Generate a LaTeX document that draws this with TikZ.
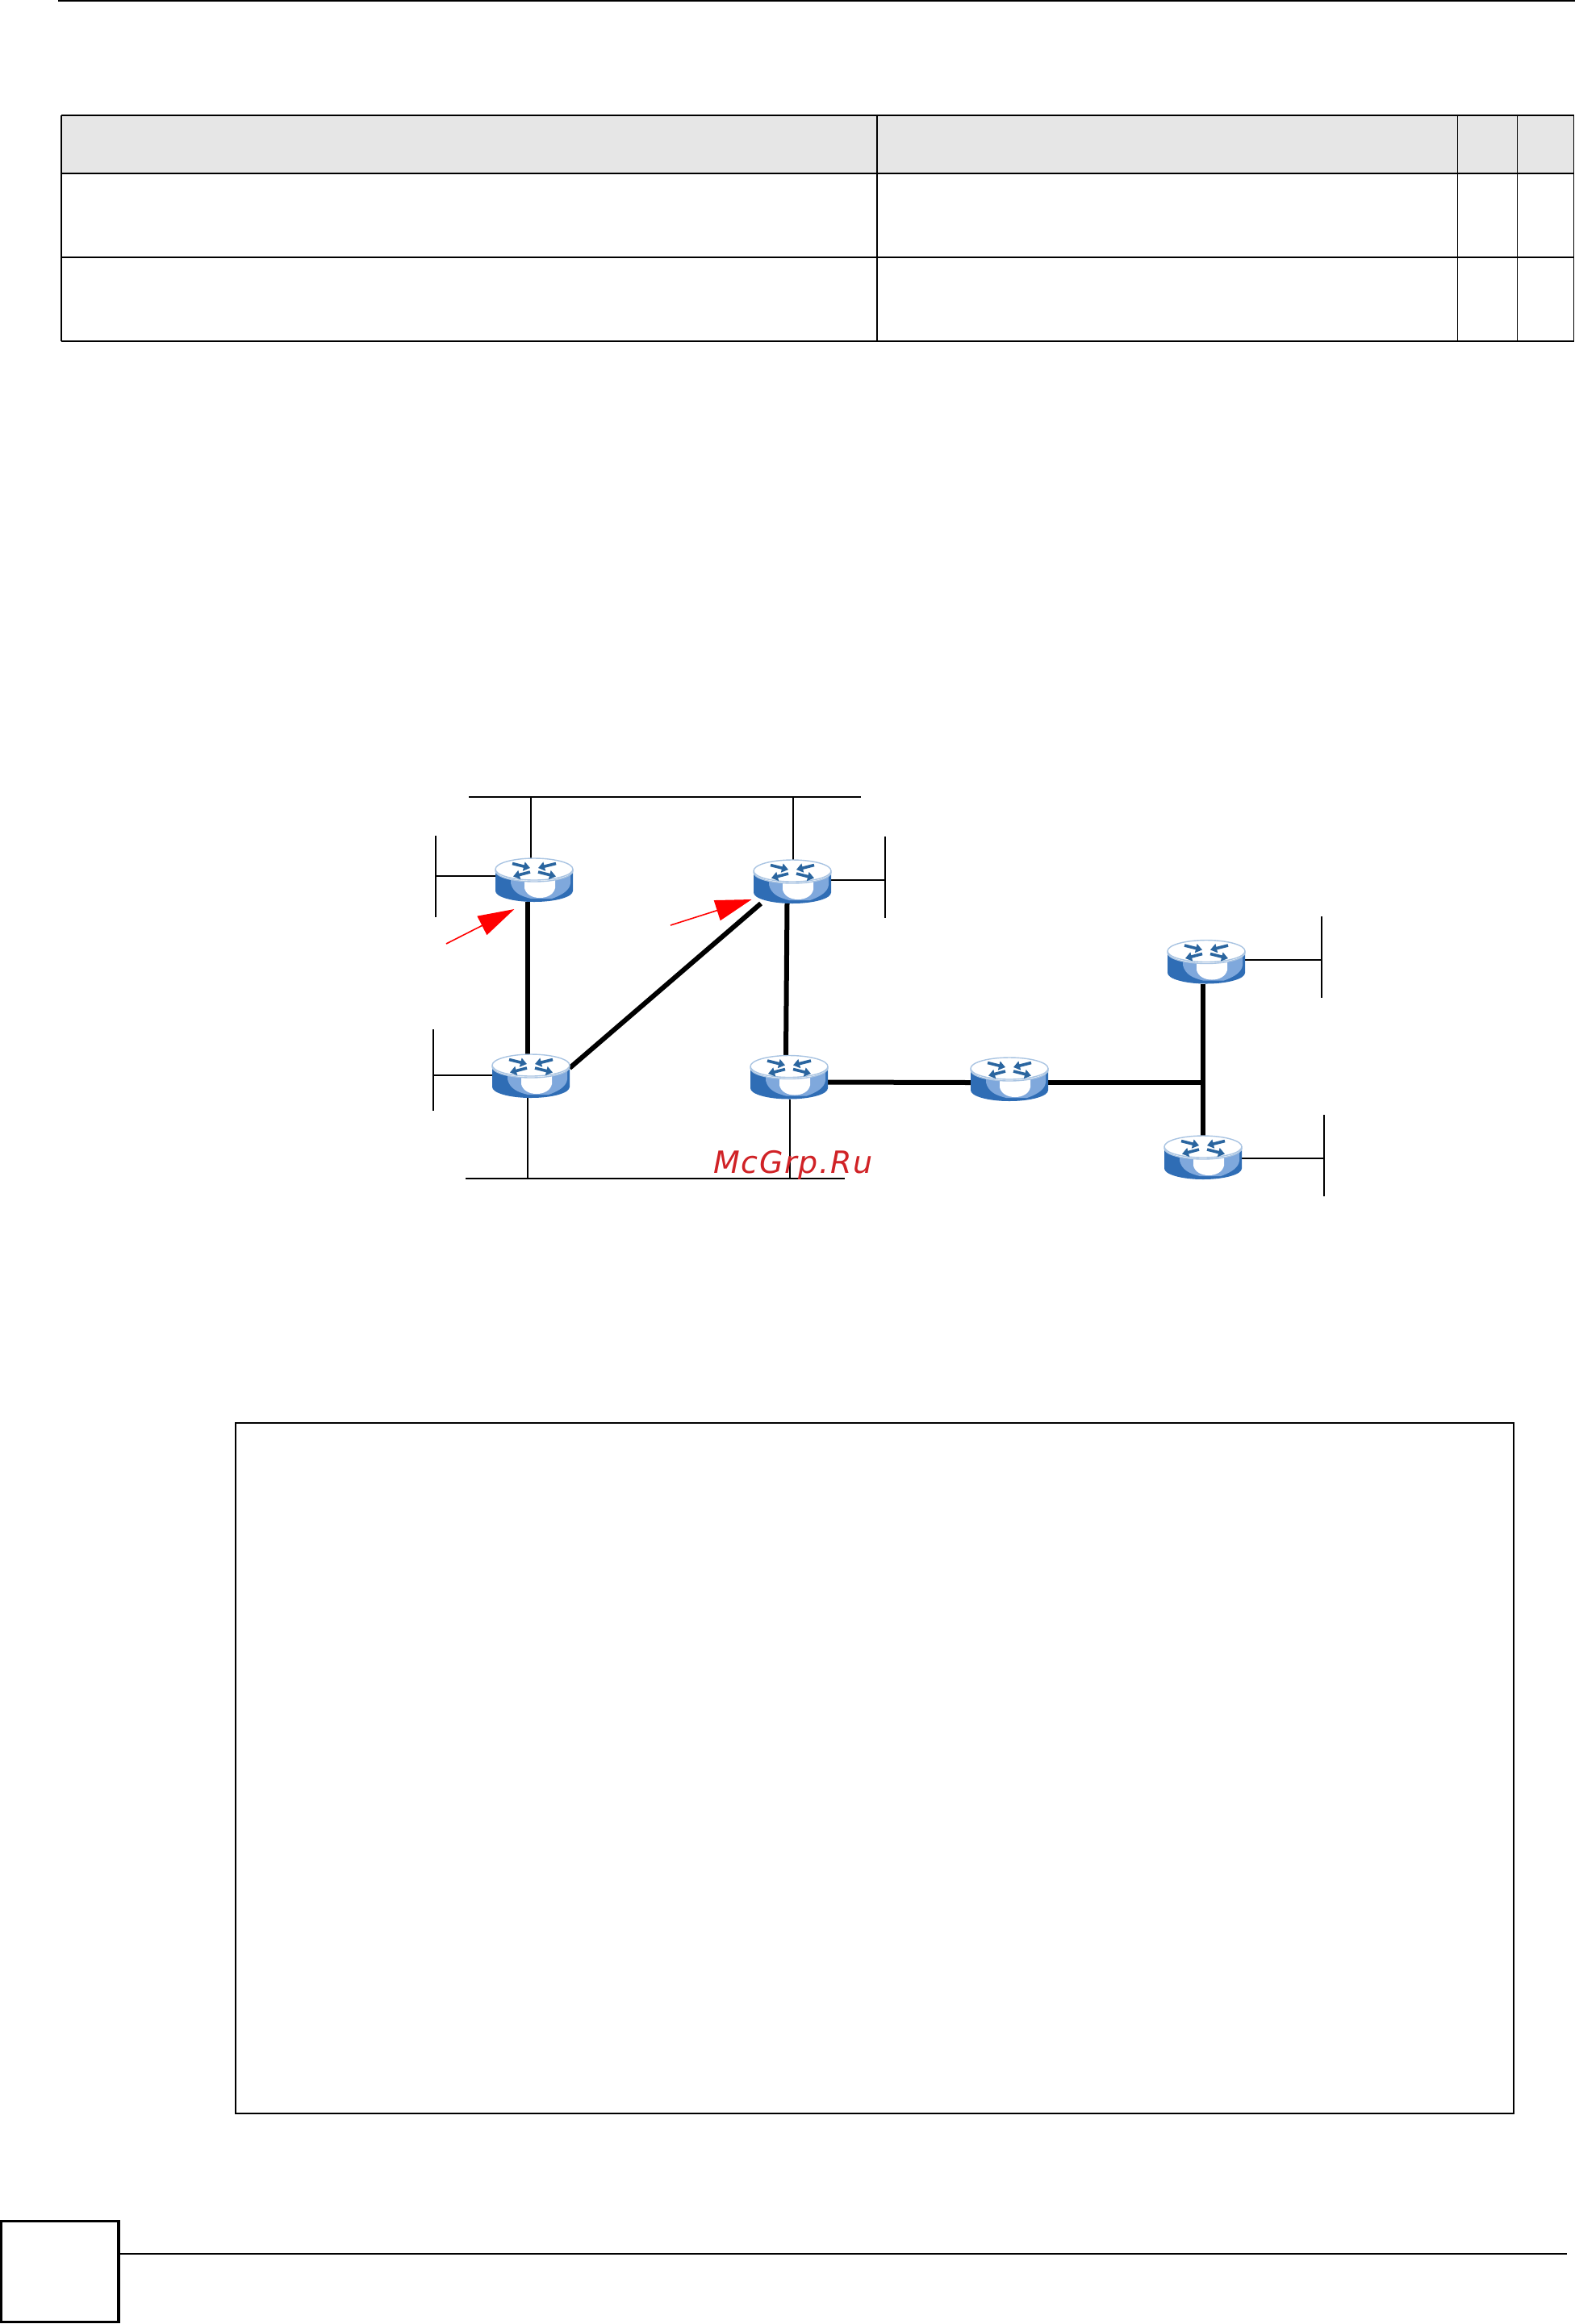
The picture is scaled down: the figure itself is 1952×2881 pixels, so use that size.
\documentclass[tikz,border=0pt]{standalone}
\usepackage{fontspec}
\usepackage{tikz}
\usetikzlibrary{arrows.meta}
\newfontfamily\markfont[LetterSpace=4.5]{DejaVu Sans}
\definecolor{routerblue}{HTML}{2F6DB5}
\definecolor{routerlight}{HTML}{7FA8DC}
\definecolor{routerrim}{HTML}{A9C4E2}
\definecolor{routerdark}{HTML}{2A659F}
\definecolor{headgray}{HTML}{E6E6E6}
\definecolor{markred}{HTML}{D02226}
\tikzset{
	x=0.5pt, y=-0.5pt,
	router/.style={shape=rectangle, minimum width=48pt, minimum height=27pt, inner sep=0pt, outer sep=0pt},
	wire/.style={line width=0.8pt},
	trunk/.style={line width=3pt},
	pointer/.style={red, line width=0.8pt, -{Triangle[length=22.5pt,width=13pt]}},
	iconarrow/.style={routerdark, line width=1.8pt, -{Triangle[length=4pt,width=5.5pt]}},
	pics/routericon/.style={code={
		\path [fill=routerblue] (-48,-13.5) -- (-48,13.5) arc[start angle=180, end angle=360, x radius=24pt, y radius=6.75pt] -- (48,-13.5) -- cycle;
		\begin{scope}
			\clip (-48,-13.5) -- (-48,13.5) arc[start angle=180, end angle=360, x radius=24pt, y radius=6.75pt] -- (48,-13.5) -- cycle;
			\fill [routerlight] (-29,-13.5) -- (-29,4) .. controls (-26,16) and (-16,20) .. (-4,23) -- (22,23) .. controls (36,18) and (44,12) .. (45,4) -- (45,-13.5) -- cycle;
			\fill [white] (-12,-13.5) -- (-12,10) .. controls (-10,18) and (-2,22) .. (7,22) .. controls (16,22) and (24,18) .. (26,10) -- (26,-13.5) -- cycle;
		\end{scope}
		\draw [routerrim, line width=0.7pt, fill=white] (0,-11.5) ellipse [x radius=24pt, y radius=6.75pt];
		\draw [routerrim, line width=0.7pt, fill=white] (0,-13.5) ellipse [x radius=24pt, y radius=6.75pt];
		\draw [iconarrow] (-27,-20.5) -- (-5,-15);
		\draw [iconarrow] (-5,-10) -- (-26,-4.5);
		\draw [iconarrow] (27,-20.5) -- (5,-15);
		\draw [iconarrow] (5,-10) -- (27,-4.5);
	}},
}
\begin{document}
\begin{tikzpicture}
	\useasboundingbox (0,0) rectangle (1952,2881);

	\draw [line width=1pt] (72,1) -- (1952,1);
	\fill [headgray] (76,143) rectangle (1951,215);
	\draw [line width=1pt] (76,143) -- (1951,143)
		(76,215) -- (1951,215)
		(76,319) -- (1951,319)
		(76,423) -- (1951,423)
		(76,143) -- (76,423)
		(1087,143) -- (1087,423);
	\draw [line width=0.7pt] (1806.5,143) -- (1806.5,423)
		(1880.5,143) -- (1880.5,423)
		(1950.5,143) -- (1950.5,423);

	\node (r1) at (662,1091) [router] {};
	\node (r2) at (982,1093) [router] {};
	\node (r3) at (658,1334) [router] {};
	\node (r4) at (978,1335.5) [router] {};
	\node (r5) at (1251,1338) [router] {};
	\node (r6) at (1495,1192.5) [router] {};
	\node (r7) at (1491,1435) [router] {};

	\coordinate (topbusl) at (581,988);
	\coordinate (topbusr) at (1067,988);
	\coordinate (lowbusl) at (577,1461);
	\coordinate (lowbusr) at (1047,1461);
	\coordinate (topa) at (658,988);
	\coordinate (topb) at (983,988);
	\coordinate (lowa) at (654,1461);
	\coordinate (lowb) at (979,1461);
	\coordinate (lana) at (540,1086);
	\coordinate (lanb) at (1097,1091);
	\coordinate (lanc) at (537,1333);
	\coordinate (land) at (1638,1190);
	\coordinate (lane) at (1641,1436);
	\coordinate (junction) at (1491,1342);
	\coordinate (starta) at (553,1170);
	\coordinate (tipa) at (637.5,1127);
	\coordinate (startb) at (831,1147);
	\coordinate (tipb) at (931.6,1115);

	\path [wire] (topbusl) edge (topbusr)
		(lowbusl) edge (lowbusr)
		(r1.north -| topa) edge (topa)
		(r2.north -| topb) edge (topb)
		(r3.south -| lowa) edge (lowa)
		(r4.south -| lowb) edge (lowb)
		(r1.west |- lana) edge (lana)
		(r2.east |- lanb) edge (lanb)
		(r3.west |- lanc) edge (lanc)
		(r6.east |- land) edge (land)
		(r7.east |- lane) edge (lane)
		([yshift=25pt]lana) edge ([yshift=-25.5pt]lana)
		([yshift=27pt]lanb) edge ([yshift=-23.5pt]lanb)
		([yshift=28.5pt]lanc) edge ([yshift=-22pt]lanc)
		([yshift=27pt]land) edge ([yshift=-23.5pt]land)
		([yshift=27pt]lane) edge ([yshift=-23.5pt]lane);

	\path [trunk] ([xshift=-4pt]r1.south) edge ([xshift=-2pt]r3.north)
		([yshift=5pt]r3.east) edge ([xshift=-19.5pt]r2.south)
		([xshift=-3.25pt]r2.south) edge ([xshift=-2pt]r4.north)
		([yshift=-3pt]r4.east) edge ([yshift=-2pt]r5.west)
		([yshift=-2pt]r5.east) edge (junction)
		([xshift=-2pt]r6.south) edge (junction)
		(r7.north) edge (junction);

	\pic at (r1) {routericon};
	\pic at (r2) {routericon};
	\pic at (r3) {routericon};
	\pic at (r4) {routericon};
	\pic at (r5) {routericon};
	\pic at (r6) {routericon};
	\pic at (r7) {routericon};

	\draw [pointer] (starta) -- (tipa);
	\draw [pointer] (startb) -- (tipb);

	\node (mark) at (884,1454) [anchor=base west, inner sep=0pt, text=markred] {\markfont\itshape\fontsize{19pt}{21pt}\selectfont McGrp.Ru};

	\draw [line width=1pt] (292,1764) rectangle (1876,2620);

	\draw [line width=1.6pt] (1.5,2753.5) rectangle (147,2878.5);
	\draw [line width=1pt] (147,2794) -- (1942,2794);
\end{tikzpicture}
\end{document}
